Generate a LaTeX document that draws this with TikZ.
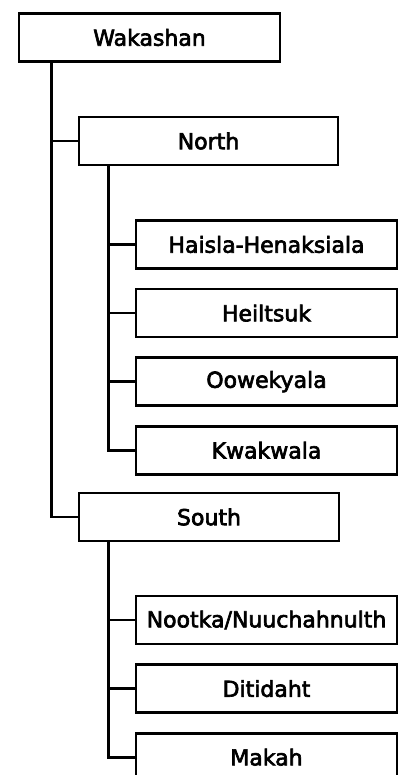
\documentclass[tikz,border=0pt]{standalone}
\usepackage{fontspec}
\setmainfont{DejaVu Sans}
\newfontfamily\langfont{DejaVu Sans}[FakeBold=3]
\usetikzlibrary{positioning}

\begin{document}
\begin{tikzpicture}[x=1pt,y=1pt,line width=2.6pt,node distance=18pt]
	\tikzstyle{lang}=[draw,rectangle,minimum width=261pt,minimum height=48pt,inner sep=0pt,font=\langfont\fontsize{22}{24}\selectfont]

	\useasboundingbox (0,0) rectangle (399,-775);

	\node[lang] (wak) at (149.5,-37.5) {Wakashan};
	\node[lang,minimum width=259pt] (north) at (208.5,-141) {North};
	\node[lang] (haisla) at (266.5,-244.5) {Haisla-Henaksiala};
	\node[lang] (heiltsuk) [below=of haisla] {Heiltsuk};
	\node[lang] (oowek) [below=of heiltsuk] {Oowekyala};
	\node[lang] (kwak) [below=of oowek] {Kwakwala};
	\node[lang,minimum width=260pt] (south) at (209,-517) {South};
	\node[lang] (nootka) at (266.5,-620) {Nootka/Nuuchahnulth};
	\node[lang] (ditidaht) [below=of nootka] {Ditidaht};
	\node[lang] (makah) [below=of ditidaht] {Makah};

	% branches
	\draw ([xshift=34pt]wak.south west) |- (north.west);
	\draw ([xshift=34pt]wak.south west) |- (south.west);
	\foreach \leaf in {haisla,heiltsuk,oowek,kwak}
		\draw ([xshift=31pt]north.south west) |- (\leaf.west);
	\foreach \leaf in {nootka,ditidaht,makah}
		\draw ([xshift=31pt]south.south west) |- (\leaf.west);

\end{tikzpicture}
\end{document}
